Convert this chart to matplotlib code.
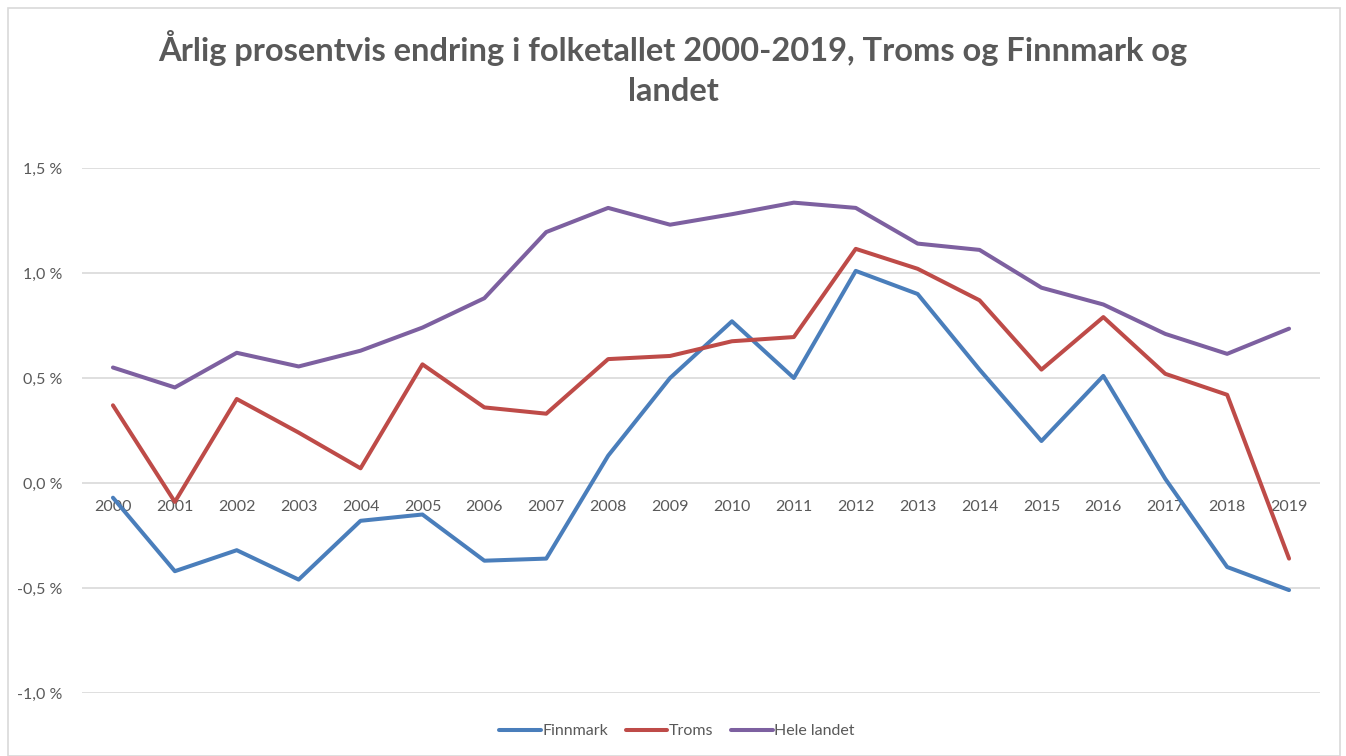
import matplotlib
matplotlib.use("Agg")
import matplotlib.pyplot as plt
from matplotlib.patches import Rectangle
from matplotlib.ticker import FuncFormatter

years = [str(y) for y in range(2000, 2020)]
finnmark = [-0.07, -0.42, -0.32, -0.46, -0.18, -0.15, -0.37, -0.36, 0.13, 0.50,
            0.77, 0.50, 1.01, 0.90, 0.54, 0.20, 0.51, 0.02, -0.40, -0.51]
troms = [0.37, -0.09, 0.40, 0.24, 0.07, 0.565, 0.36, 0.33, 0.59, 0.605,
         0.675, 0.695, 1.115, 1.02, 0.87, 0.54, 0.79, 0.52, 0.42, -0.36]
hele_landet = [0.55, 0.455, 0.62, 0.555, 0.63, 0.74, 0.88, 1.195, 1.31, 1.23,
               1.28, 1.335, 1.31, 1.14, 1.11, 0.93, 0.85, 0.71, 0.615, 0.735]
series_names = ["Finnmark", "Troms", "Hele landet"]
yticks = [-1.0, -0.5, 0.0, 0.5, 1.0, 1.5]

colors = ["#4A7EBB", "#BE4B48", "#7D60A0"]
txt = "#595959"
plt.rcParams['font.family'] = ['Lato', 'DejaVu Sans']

fig = plt.figure(figsize=(13.46, 7.56), dpi=100)
fig.patches.append(Rectangle((8/1346, 0), 1332/1346, 1 - 8/756, transform=fig.transFigure,
                             fill=False, edgecolor="#D9D9D9", linewidth=1.2))
ax = fig.add_axes([82/1346, 1 - 693/756, (1320-82)/1346, (693-168)/756])

x = list(range(len(years)))
for vals, c, n in zip([finnmark, troms, hele_landet], colors, series_names):
    ax.plot(x, vals, color=c, lw=2.9, label=n, solid_capstyle='round', solid_joinstyle='round', zorder=3)

ax.set_xlim(-0.5, len(years) - 0.5)
ax.set_ylim(-1.0, 1.5)
ax.set_yticks(yticks)
ax.yaxis.set_major_formatter(FuncFormatter(lambda v, p: ("%.1f" % v).replace(".", ",").replace("-0,0", "0,0") + " %"))
ax.grid(axis='y', color="#D9D9D9", lw=1.2, zorder=0)
for s in ["top", "right", "left"]:
    ax.spines[s].set_visible(False)
ax.spines["bottom"].set_position(("data", 0))
ax.spines["bottom"].set_visible(False)
ax.set_xticks(x)
ax.set_xticklabels(years)
ax.tick_params(axis='x', length=0, pad=12, labelsize=11.5, labelcolor=txt)
ax.tick_params(axis='y', length=0, pad=14, labelsize=11.5, labelcolor=txt)
for lab in ax.get_xticklabels():
    lab.set_zorder(1)

fig.text(0.5, 1 - 68/756, "Årlig prosentvis endring i folketallet 2000-2019, Troms og Finnmark og\nlandet",
         ha='center', va='center', fontsize=23.5, fontweight='bold', color=txt, linespacing=1.45)

leg = fig.legend(loc='center', bbox_to_anchor=(677/1346, 1 - 731/756), ncol=3, frameon=False,
                 fontsize=11.5, handlelength=2.6, handletextpad=0.1, columnspacing=1.1, labelcolor=txt)

fig.savefig("out.png", dpi=100)
